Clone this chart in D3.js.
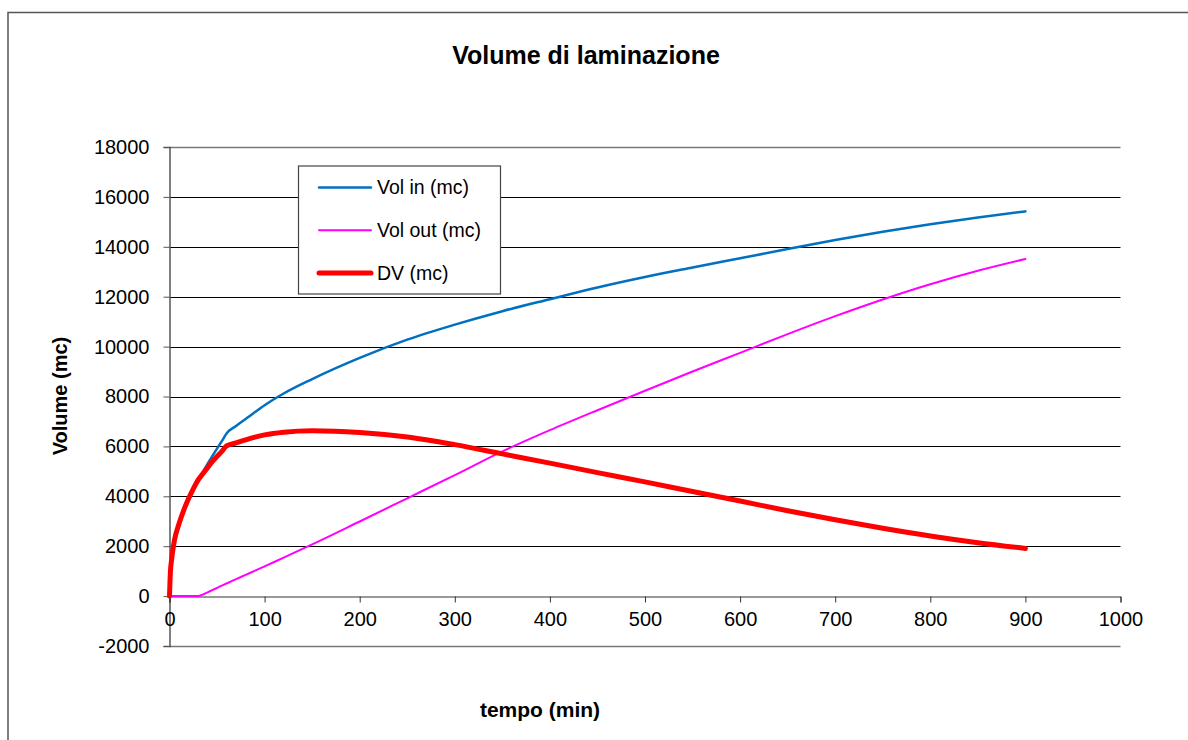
<!DOCTYPE html>
<html>
<head>
<meta charset="utf-8">
<script src="https://cdn.jsdelivr.net/npm/d3@7"></script>
<style>
  html, body { margin: 0; padding: 0; background: #fff; }
  svg { display: block; font-family: "Liberation Sans", Arial, sans-serif; }
</style>
</head>
<body>
<div id="chart"></div>
<script>
// time in minutes
const tempo = [0, 1, 2, 5, 10, 15, 20, 25, 30, 35, 40, 45, 50, 55, 60, 70, 80, 90, 100, 120, 150,
  200, 250, 300, 350, 400, 450, 500, 550, 600, 650, 700, 750, 800, 850, 900];
const volIn = [0, 1000, 1400, 2200, 2900, 3450, 3900, 4300, 4650, 4970, 5300, 5610, 5910, 6210, 6520,
  6820, 7100, 7380, 7650, 8120, 8700, 9550, 10280, 10880, 11420, 11900, 12370, 12790, 13170, 13540,
  13910, 14270, 14600, 14900, 15170, 15420];
const volOut = [0, 0, 0, 0, 0, 0, 0, 0, 0, 60, 150, 240, 330, 420, 505, 680, 850, 1020, 1195, 1540, 2070,
  2990, 3920, 4850, 5800, 6650, 7450, 8230, 9000, 9750, 10500, 11220, 11890, 12500, 13040, 13510];
const dv = [0, 1000, 1400, 2200, 2900, 3450, 3900, 4300, 4650, 4900, 5150, 5390, 5600, 5800, 6020,
  6140, 6260, 6370, 6460, 6570, 6630, 6560, 6380, 6070, 5700, 5330, 4950, 4580, 4190, 3810, 3420,
  3060, 2720, 2410, 2140, 1910];

const seriesNames = ['Vol in (mc)', 'Vol out (mc)', 'DV (mc)'];
const seriesColors = ['#0070c0', '#ff00ff', '#ff0000'];
const seriesWidths = [2.5, 2, 5];
const seriesValues = [volIn, volOut, dv];

const xTicks = [0, 100, 200, 300, 400, 500, 600, 700, 800, 900, 1000];
const yTicks = [-2000, 0, 2000, 4000, 6000, 8000, 10000, 12000, 14000, 16000, 18000];

const W = 1188, H = 740;
const svg = d3.select('#chart').append('svg').attr('width', W).attr('height', H);

// chart frame (runs off the right and bottom edges)
svg.append('rect')
  .attr('x', 8).attr('y', 12.5).attr('width', 1300).attr('height', 900)
  .attr('fill', '#fff').attr('stroke', '#555').attr('stroke-width', 1.5);

const x = d3.scaleLinear().domain([0, 1000]).range([169.5, 1120.5]);
const y = d3.scaleLinear().domain([-2000, 18000]).range([646, 147]);

// gridlines
svg.append('g').selectAll('line')
  .data(yTicks.filter(d => d !== 0))
  .join('line')
  .attr('x1', x(0)).attr('x2', x(1000))
  .attr('y1', d => Math.round(y(d)) + 0.5).attr('y2', d => Math.round(y(d)) + 0.5)
  .attr('stroke', d => (d === 18000 || d === -2000) ? '#777' : '#000')
  .attr('stroke-width', d => (d === 18000 || d === -2000) ? 1.5 : 1);

// y axis
const yAxis = svg.append('g')
  .attr('transform', `translate(${x(0)},0)`)
  .call(d3.axisLeft(y).tickValues(yTicks).tickSize(6).tickPadding(14).tickFormat(d => String(d)));
yAxis.select('.domain').attr('stroke', '#555').attr('stroke-width', 1.5);
yAxis.selectAll('.tick line').attr('stroke', '#555');
yAxis.selectAll('.tick text').attr('font-size', 20).attr('fill', '#000')
  .attr('font-family', '"Liberation Sans", Arial, sans-serif');

// x axis at y = 0
const xAxis = svg.append('g')
  .attr('transform', `translate(0,${Math.round(y(0)) + 0.5})`)
  .call(d3.axisBottom(x).tickValues(xTicks).tickSize(6).tickPadding(9).tickFormat(d => String(d)));
xAxis.select('.domain').attr('stroke', '#333').attr('stroke-width', 1);
xAxis.selectAll('.tick line').attr('stroke', '#333');
xAxis.selectAll('.tick text').attr('font-size', 20).attr('fill', '#000')
  .attr('font-family', '"Liberation Sans", Arial, sans-serif');

// series
const line = d3.line()
  .x((d, i) => x(tempo[i]))
  .y(d => y(d))
  .curve(d3.curveMonotoneX);

[0, 1, 2].forEach(s => {
  svg.append('path')
    .datum(seriesValues[s])
    .attr('d', line)
    .attr('fill', 'none')
    .attr('stroke', seriesColors[s])
    .attr('stroke-width', seriesWidths[s])
    .attr('stroke-linejoin', 'round')
    .attr('stroke-linecap', 'round');
});

// legend
const legend = svg.append('g');
legend.append('rect')
  .attr('x', 298.5).attr('y', 166).attr('width', 202).attr('height', 128)
  .attr('fill', '#fff').attr('stroke', '#444').attr('stroke-width', 1.2);
seriesNames.forEach((name, i) => {
  const ly = 187.5 + i * 42.7;
  legend.append('line')
    .attr('x1', 319).attr('x2', 371).attr('y1', ly).attr('y2', ly)
    .attr('stroke', seriesColors[i]).attr('stroke-width', seriesWidths[i])
    .attr('stroke-linecap', 'round');
  legend.append('text')
    .attr('x', 377).attr('y', ly).attr('dy', '0.35em')
    .attr('font-size', 19.5).attr('fill', '#000')
    .text(name);
});

// titles
svg.append('text')
  .attr('x', 586).attr('y', 64)
  .attr('text-anchor', 'middle').attr('font-size', 25).attr('font-weight', 'bold')
  .text('Volume di laminazione');

svg.append('text')
  .attr('transform', 'translate(67,396) rotate(-90)')
  .attr('text-anchor', 'middle').attr('font-size', 20).attr('font-weight', 'bold')
  .text('Volume (mc)');

svg.append('text')
  .attr('x', 540).attr('y', 717)
  .attr('text-anchor', 'middle').attr('font-size', 21).attr('font-weight', 'bold')
  .text('tempo (min)');
</script>
</body>
</html>
